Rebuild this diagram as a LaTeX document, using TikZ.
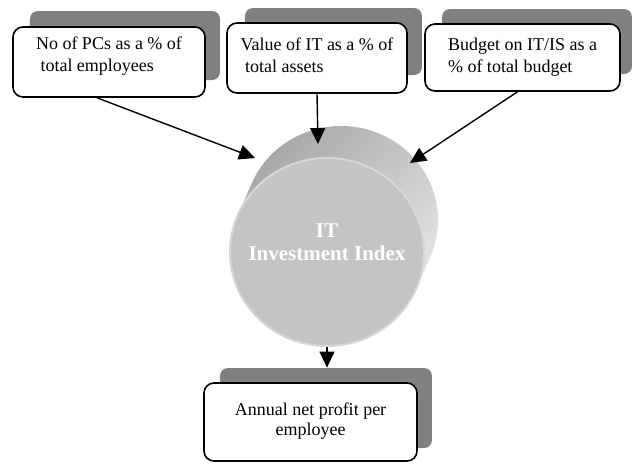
\documentclass[tikz,border=0pt]{standalone}
\usepackage{fontspec}
\setmainfont{Liberation Serif}
\usetikzlibrary{arrows.meta,shapes.geometric}

% deep strut to lift a text block inside its box
\newcommand{\liftstrut}[1]{\rule[-#1]{0pt}{#1}}

\begin{document}
\begin{tikzpicture}[
  x=0.5pt, y=0.5pt,
  font=\fontsize{9}{11}\selectfont,
  shbox/.style={fill=black!50, rounded corners=4pt, inner sep=0pt},
  inbox/.style={draw, fill=white, line width=0.8pt, rounded corners=5pt,
                inner sep=0pt, align=left},
  face/.style={ellipse, fill=black!23, draw=black!16, line width=1pt,
               minimum width=97pt, minimum height=94pt, inner sep=0pt},
  idxtext/.style={text=white, align=center,
                  font=\fontsize{10.5}{11.5}\selectfont\bfseries},
  arr/.style={-{Triangle[length=8pt,width=7.5pt]}, line width=0.7pt}
]
\useasboundingbox (0,0) rectangle (634,-463);
%--- Row 1: the three input measures -----------------------------------------
\node[shbox, minimum width=95pt,   minimum height=34.5pt] (pcs-sh)    at (125,-45.5) {};
\node[shbox, minimum width=88.5pt, minimum height=33.5pt] (assets-sh) at (333.5,-41.5) {};
\node[shbox, minimum width=95pt,   minimum height=32.5pt] (budget-sh) at (537,-41.5) {};
\node[inbox, minimum width=96pt, minimum height=35pt] (pcs) at (109,-62) {%
  No of PCs as a \% of\\\ total employees\liftstrut{8pt}%
};
\node[inbox, minimum width=90pt, minimum height=35pt] (assets) at (317,-58) {%
  Value of IT as a \% of\\\ total assets\liftstrut{3pt}%
};
\node[inbox, minimum width=97.5pt, minimum height=33.5pt] (budget) at (522.5,-57.5) {%
  Budget on IT/IS as a\\\% of total budget%
};
%--- Row 2: the index cylinder -----------------------------------------------
\coordinate (F) at (327,-252);
\shade[shift={(F)}, top color=black!36, bottom color=black!7, shading angle=45]
  (-23:48.5pt and 47pt) -- ++(7pt,16pt)
  arc[start angle=-23, end angle=157, x radius=48.5pt, y radius=47pt]
  -- ++(-7pt,-16pt)
  arc[start angle=157, end angle=337, x radius=48.5pt, y radius=47pt] -- cycle;
\node[face] (face) at (F) {};
\node[idxtext] (idx) at ([yshift=5pt]face.center) {IT\\Investment Index};
\coordinate (t1) at (255,-158);
\coordinate (t2) at (318,-144);
\coordinate (t3) at (410,-163);
%--- Row 3: the outcome measure ----------------------------------------------
\node[shbox, minimum width=106pt, minimum height=40pt] (profit-sh) at (326,-408) {};
\node[inbox, align=center, font=\fontsize{9}{10}\selectfont,
      minimum width=106.5pt, minimum height=39pt] (profit) at (310.5,-422) {%
  Annual net profit per\\employee\liftstrut{3pt}%
};
%--- Arrows: measures -> index -> profit -------------------------------------
\draw[arr] ([xshift=-6pt]pcs.south) -- (t1);
\draw[arr] (assets.south) -- (t2);
\draw[arr] ([xshift=-2.5pt]budget.south) -- (t3);
\draw[arr] (face.south) -- (face.south |- profit-sh.north);
\end{tikzpicture}
\end{document}
